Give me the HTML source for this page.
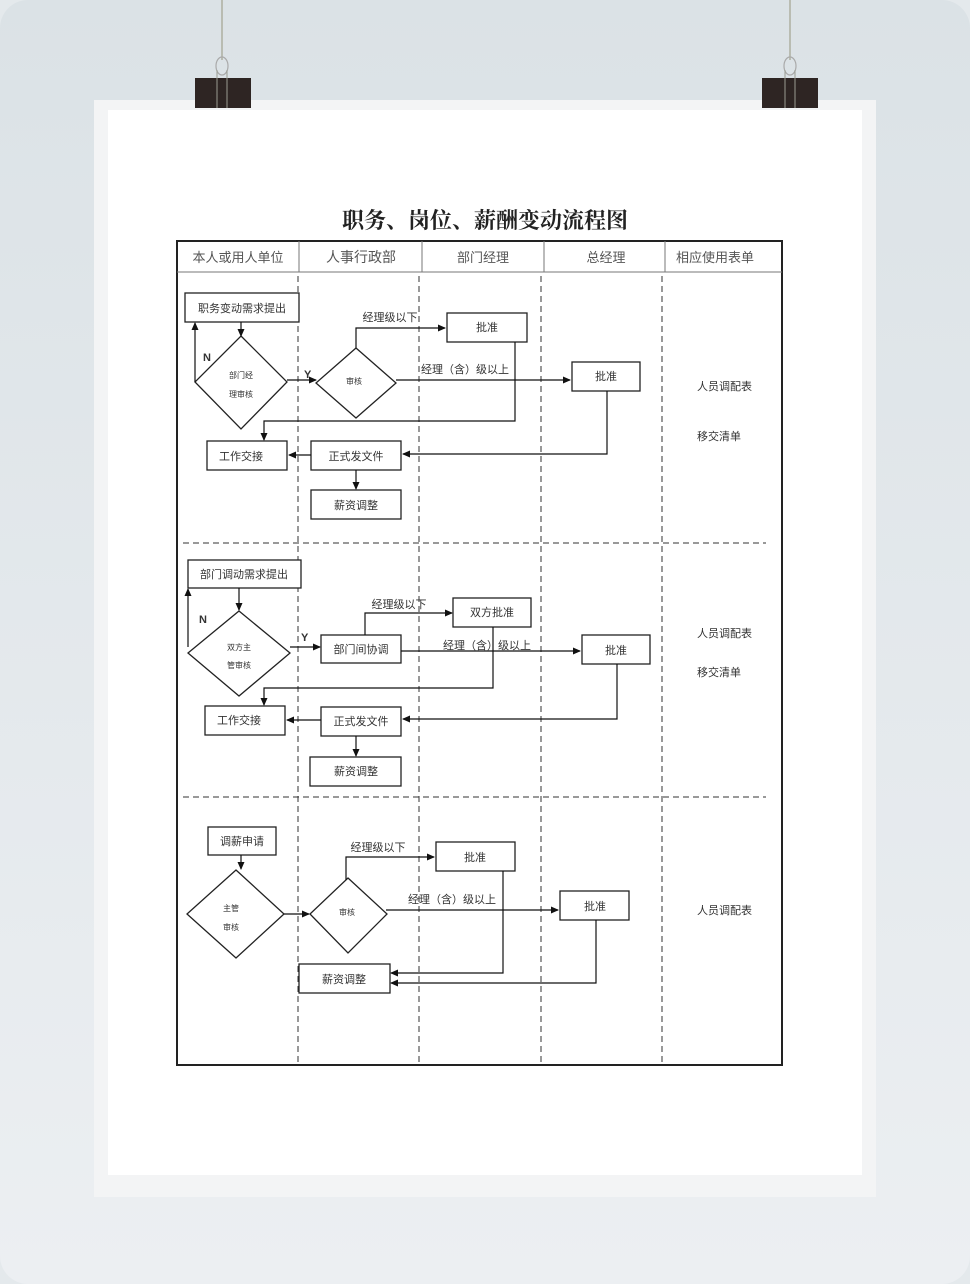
<!DOCTYPE html>
<html><head><meta charset="utf-8"><style>
html,body{margin:0;padding:0;}
body{width:970px;height:1284px;background:#e4e9ec;overflow:hidden;}
svg{display:block;}
text{font-family:"Liberation Sans","Noto Sans CJK SC",sans-serif;}
</style></head><body>
<svg width="970" height="1284" viewBox="0 0 970 1284" xmlns="http://www.w3.org/2000/svg">
<defs>
<linearGradient id="bg" x1="0" y1="0" x2="0" y2="1"><stop offset="0" stop-color="#dbe2e6"/><stop offset="1" stop-color="#eceff2"/></linearGradient>
<marker id="a" markerWidth="8" markerHeight="8" refX="7" refY="4" orient="auto" markerUnits="userSpaceOnUse"><path d="M0,0.5 L8,4 L0,7.5 Z" fill="#111"/></marker>
</defs>
<rect x="0" y="0" width="970" height="1284" rx="28" fill="url(#bg)"/>
<rect x="94" y="100" width="782" height="1097" fill="#f3f4f5"/>
<rect x="108" y="110" width="754" height="1065" fill="#fff"/>
<!-- strings & clips -->
<line x1="222" y1="0" x2="222" y2="60" stroke="#b9bcb2" stroke-width="2"/>
<line x1="790" y1="0" x2="790" y2="60" stroke="#b9bcb2" stroke-width="2"/>
<ellipse cx="222" cy="66" rx="6" ry="9" fill="none" stroke="#aaa" stroke-width="1.2"/>
<ellipse cx="790" cy="66" rx="6" ry="9" fill="none" stroke="#aaa" stroke-width="1.2"/>
<rect x="195" y="78" width="56" height="30" fill="#2e2523"/>
<rect x="762" y="78" width="56" height="30" fill="#2e2523"/>
<line x1="217" y1="70" x2="217" y2="108" stroke="#9a9c92" stroke-width="1"/><line x1="227" y1="70" x2="227" y2="108" stroke="#9a9c92" stroke-width="1"/>
<line x1="785" y1="70" x2="785" y2="108" stroke="#9a9c92" stroke-width="1"/><line x1="795" y1="70" x2="795" y2="108" stroke="#9a9c92" stroke-width="1"/>

<text x="485" y="228" text-anchor="middle" font-size="22" font-weight="bold" fill="#222" style="font-family:'Liberation Serif','Noto Serif CJK SC',serif">职务、岗位、薪酬变动流程图</text>

<g fill="none" stroke="#222">
<rect x="177" y="241" width="605" height="824" stroke-width="2"/>
<line x1="177" y1="272" x2="782" y2="272" stroke="#777"/>
<line x1="299" y1="241" x2="299" y2="272" stroke="#777"/>
<line x1="422" y1="241" x2="422" y2="272" stroke="#777"/>
<line x1="544" y1="241" x2="544" y2="272" stroke="#777"/>
<line x1="665" y1="241" x2="665" y2="272" stroke="#777"/>
<g stroke-dasharray="6,4" stroke="#333">
<line x1="298" y1="276" x2="298" y2="1065"/>
<line x1="419" y1="276" x2="419" y2="1065"/>
<line x1="541" y1="276" x2="541" y2="1065"/>
<line x1="662" y1="276" x2="662" y2="1065"/>
<line x1="183" y1="543" x2="766" y2="543"/>
<line x1="183" y1="797" x2="766" y2="797"/>
</g>
</g>
<g font-size="13" fill="#555" text-anchor="middle">
<text x="238" y="262">本人或用人单位</text><text x="361" y="262" font-size="14">人事行政部</text><text x="483" y="262">部门经理</text><text x="606" y="262">总经理</text><text x="715" y="262">相应使用表单</text>
</g>

<g fill="#fff" stroke="#222" stroke-width="1.3">
<!-- section 1 -->
<rect x="185" y="293" width="114" height="29"/>
<polygon points="241,336 287,382 241,429 195,382"/>
<polygon points="356,348 396,383 356,418 316,383"/>
<rect x="447" y="313" width="80" height="29"/>
<rect x="572" y="362" width="68" height="29"/>
<rect x="207" y="441" width="80" height="29"/>
<rect x="311" y="441" width="90" height="29"/>
<rect x="311" y="490" width="90" height="29"/>
<!-- section 2 -->
<rect x="188" y="560" width="113" height="28"/>
<polygon points="239,611 290,653 239,696 188,653"/>
<rect x="321" y="635" width="80" height="28"/>
<rect x="453" y="598" width="78" height="29"/>
<rect x="582" y="635" width="68" height="29"/>
<rect x="205" y="706" width="80" height="29"/>
<rect x="321" y="707" width="80" height="29"/>
<rect x="310" y="757" width="91" height="29"/>
<!-- section 3 -->
<rect x="208" y="827" width="68" height="28"/>
<polygon points="236,870 284,914 236,958 187,914"/>
<polygon points="348,878 387,914 348,953 310,914"/>
<rect x="436" y="842" width="79" height="29"/>
<rect x="560" y="891" width="69" height="29"/>
<rect x="299" y="964" width="91" height="29"/>
</g>

<g fill="none" stroke="#111" stroke-width="1.2" marker-end="url(#a)">
<line x1="241" y1="322" x2="241" y2="336"/>
<polyline points="195,382 195,323"/>
<line x1="287" y1="380" x2="316" y2="380"/>
<polyline points="356,348 356,328 445,328"/>
<line x1="396" y1="380" x2="570" y2="380"/>
<polyline points="515,342 515,421 264,421 264,440"/>
<polyline points="607,391 607,454 403,454"/>
<line x1="311" y1="455" x2="289" y2="455"/>
<line x1="356" y1="470" x2="356" y2="489"/>

<line x1="239" y1="588" x2="239" y2="610"/>
<polyline points="188,647 188,589"/>
<line x1="290" y1="647" x2="320" y2="647"/>
<polyline points="365,635 365,613 452,613"/>
<line x1="401" y1="651" x2="580" y2="651"/>
<polyline points="493,627 493,688 264,688 264,705"/>
<polyline points="617,664 617,719 403,719"/>
<line x1="321" y1="720" x2="287" y2="720"/>
<line x1="356" y1="736" x2="356" y2="756"/>

<line x1="241" y1="855" x2="241" y2="869"/>
<line x1="284" y1="914" x2="309" y2="914"/>
<polyline points="346,880 346,857 434,857"/>
<line x1="386" y1="910" x2="558" y2="910"/>
<polyline points="503,871 503,973 391,973"/>
<polyline points="596,920 596,983 391,983"/>
</g>

<g font-size="11" fill="#333" text-anchor="middle">
<text x="242" y="312">职务变动需求提出</text>
<text x="241" y="378" font-size="8">部门经</text><text x="241" y="397" font-size="8">理审核</text>
<text x="354" y="384" font-size="8">审核</text>
<text x="487" y="331">批准</text><text x="606" y="380">批准</text>
<text x="241" y="460">工作交接</text><text x="356" y="460">正式发文件</text><text x="356" y="509">薪资调整</text>
<text x="390" y="321">经理级以下</text><text x="465" y="373">经理（含）级以上</text>

<text x="244" y="578">部门调动需求提出</text>
<text x="239" y="650" font-size="8">双方主</text><text x="239" y="668" font-size="8">管审核</text>
<text x="361" y="653">部门间协调</text><text x="492" y="616">双方批准</text><text x="616" y="654">批准</text>
<text x="239" y="724">工作交接</text><text x="361" y="725">正式发文件</text><text x="356" y="775">薪资调整</text>
<text x="399" y="608">经理级以下</text><text x="487" y="649">经理（含）级以上</text>

<text x="242" y="845">调薪申请</text>
<text x="231" y="911" font-size="8">主管</text><text x="231" y="930" font-size="8">审核</text>
<text x="347" y="915" font-size="8">审核</text>
<text x="475" y="861">批准</text><text x="595" y="910">批准</text><text x="344" y="983">薪资调整</text>
<text x="378" y="851">经理级以下</text><text x="452" y="903">经理（含）级以上</text>
</g>
<g font-size="11" fill="#333" font-weight="bold" style="font-family:'Liberation Serif',serif">
<text x="203" y="361">N</text><text x="304" y="378">Y</text>
<text x="199" y="623">N</text><text x="301" y="641">Y</text>
</g>
<g font-size="11" fill="#333">
<text x="697" y="390">人员调配表</text><text x="697" y="440">移交清单</text>
<text x="697" y="637">人员调配表</text><text x="697" y="676">移交清单</text>
<text x="697" y="914">人员调配表</text>
</g>
</svg>
</body></html>
